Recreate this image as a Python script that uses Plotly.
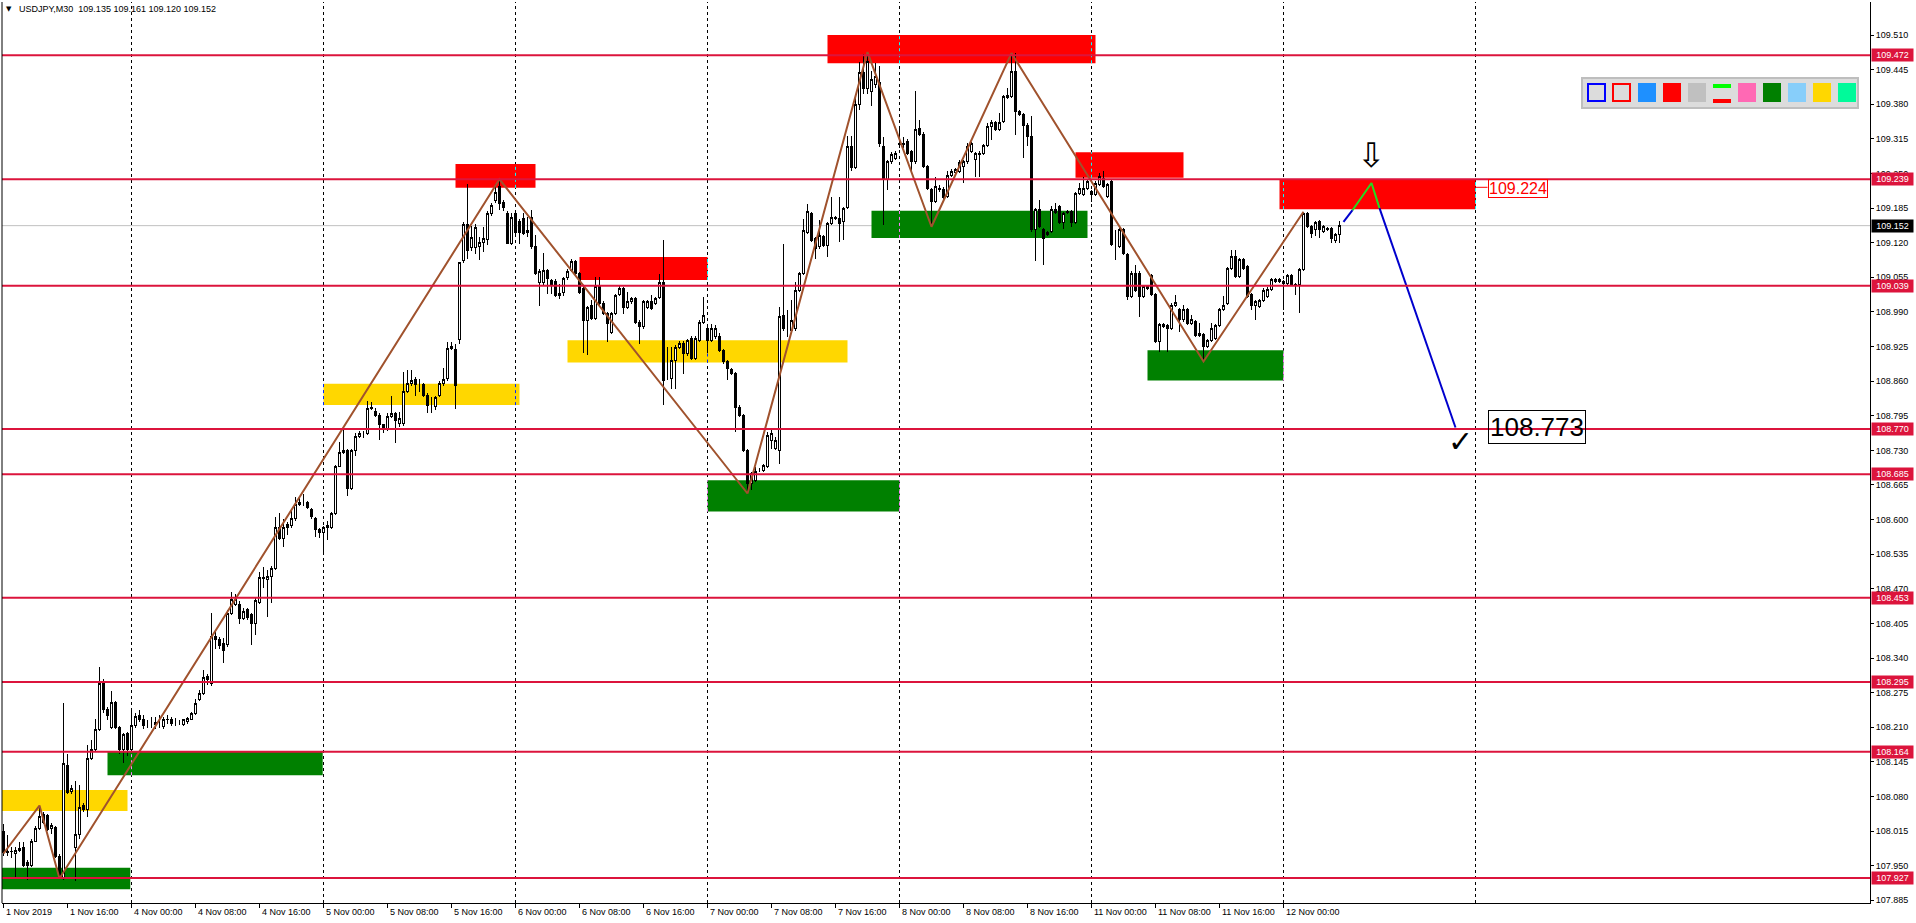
import plotly.graph_objects as go

# ---------------- canvas / frame ----------------
W, H = 1916, 923
ML, MR, MT, MB = 2, 46, 2, 20
PW, PH = W - ML - MR, H - MT - MB

header_text = "USDJPY,M30  109.135 109.161 109.120 109.152"

# ---------------- data (M30 candles, values in points of 0.001 above 107.000) ----------------
BASE = 107.0
POINT = 0.001

open_pts = [1015,975,976,973,978,985,956,951,996,1020,1047,1045,1020,1021,968,928,1139,1090,985,1009,
 1063,1055,1152,1169,1206,1293,1243,1209,1256,1209,1169,1199,1169,1213,1233,1224,1217,1216,1215,1219,
 1211,1224,1224,1219,1219,1215,1221,1224,1236,1262,1273,1305,1293,1380,1374,1367,1365,1424,1441,1441,
 1414,1431,1421,1404,1444,1491,1488,1494,1508,1585,1565,1590,1588,1602,1629,1632,1632,1619,1602,1582,
 1575,1585,1585,1612,1700,1726,1729,1659,1729,1756,1761,1761,1808,1803,1796,1778,1770,1794,1800,1781,
 1780,1840,1855,1864,1853,1853,1833,1817,1812,1833,1855,1865,1922,1920,1938,2087,2155,2111,2111,2112,
 2121,2126,2175,2200,2225,2196,2175,2119,2175,2159,2165,2142,2168,2113,2046,2046,2068,2049,2048,2024,
 2026,2054,2067,2084,2062,2034,1974,2002,1977,2037,2006,1987,1952,1987,2023,2034,1999,2009,2015,1971,
 1962,1999,2009,2006,2018,2046,1865,1865,1899,1923,1930,1912,1940,1902,1937,1971,1959,1937,1943,1944,
 1918,1896,1882,1874,1811,1796,1730,1667,1674,1692,1692,1699,1749,1733,1730,1984,1957,1955,1959,2031,
 2062,2140,2175,2128,2112,2132,2115,2156,2168,2165,2159,2187,2300,2262,2380,2440,2410,2404,2417,2420,
 2301,2238,2272,2279,2304,2304,2310,2291,2272,2335,2324,2263,2220,2197,2222,2220,2207,2247,2252,2254,
 2263,2272,2291,2276,2285,2287,2302,2338,2345,2332,2348,2392,2395,2442,2367,2360,2341,2319,2144,2182,
 2144,2135,2141,2182,2188,2158,2177,2178,2158,2213,2210,2222,2216,2210,2229,2241,2207,2235,2116,2113,
 2144,2097,2019,2063,2063,2019,2038,2059,2022,1934,1963,1964,1959,2003,1995,1975,1995,1969,1972,1945,
 1947,1925,1937,1940,1965,1994,2006,2072,2094,2056,2088,2075,2022,2003,2001,2012,2019,2033,2050,2047,
 2047,2044,2058,2041,2041,2070,2175,2150,2144,2160,2141,2147,2147,2125,2135]
high_pts = [1028,1008,985,985,995,995,961,1001,1025,1063,1050,1048,1030,1025,972,1256,1159,1102,1109,1102,
 1068,1176,1186,1226,1323,1300,1248,1278,1260,1212,1199,1202,1243,1236,1243,1233,1223,1229,1229,1233,
 1229,1233,1229,1228,1224,1226,1229,1239,1263,1280,1317,1310,1424,1391,1380,1377,1431,1464,1461,1448,
 1434,1434,1424,1454,1501,1511,1505,1513,1605,1612,1602,1595,1619,1642,1645,1649,1635,1622,1605,1585,
 1588,1598,1615,1702,1746,1773,1733,1733,1763,1766,1766,1823,1820,1810,1800,1780,1800,1833,1803,1803,
 1877,1880,1880,1867,1864,1857,1837,1830,1833,1860,1884,1934,1934,1930,2084,2159,2231,2151,2155,2130,
 2150,2180,2195,2231,2239,2200,2180,2175,2180,2165,2175,2168,2181,2134,2070,2100,2071,2052,2052,2043,
 2055,2071,2090,2087,2065,2037,2002,2012,2056,2056,2010,1990,1990,2024,2040,2037,2027,2018,2018,1974,
 2012,2012,2021,2018,2062,2125,1924,1924,1927,1935,1935,1940,1945,1945,1975,2018,1962,1968,1965,1950,
 1921,1899,1885,1877,1815,1799,1733,1690,1699,1696,1705,1764,1768,1755,1999,2118,1993,2012,2046,2065,
 2165,2193,2178,2131,2162,2135,2159,2206,2171,2206,2187,2320,2320,2400,2460,2475,2478,2442,2457,2451,
 2319,2276,2290,2292,2335,2319,2315,2294,2404,2351,2327,2266,2222,2244,2229,2225,2254,2258,2260,2275,
 2276,2307,2310,2291,2292,2305,2345,2351,2348,2363,2398,2410,2470,2476,2370,2363,2344,2357,2185,2200,
 2147,2142,2188,2194,2191,2178,2181,2181,2216,2232,2244,2238,2219,2235,2251,2254,2232,2238,2144,2147,
 2147,2100,2066,2078,2066,2041,2041,2062,2025,1969,1969,1967,2006,2022,1998,2003,1998,1984,1975,1969,
 1950,1940,1969,1968,1997,2019,2075,2106,2106,2091,2091,2078,2025,2012,2015,2034,2036,2053,2053,2053,
 2050,2061,2061,2044,2073,2178,2178,2153,2161,2163,2153,2150,2150,2139,2161]
low_pts = [968,968,965,928,975,948,924,948,995,1018,1028,1015,1010,965,926,924,1085,1085,921,1001,
 1050,1042,1149,1166,1203,1236,1223,1206,1206,1159,1142,1156,1166,1209,1219,1206,1209,1209,1206,1209,
 1206,1216,1213,1213,1215,1213,1216,1223,1233,1260,1270,1290,1287,1357,1357,1330,1360,1421,1437,1404,
 1411,1411,1364,1384,1441,1471,1418,1444,1505,1562,1548,1572,1585,1598,1625,1625,1619,1602,1568,1565,
 1538,1562,1582,1609,1699,1723,1645,1656,1719,1753,1753,1758,1806,1793,1749,1763,1766,1790,1743,1773,
 1776,1837,1850,1833,1840,1830,1800,1800,1806,1830,1850,1860,1918,1808,1930,2081,2090,2105,2098,2087,
 2103,2115,2170,2195,2181,2180,2117,2115,2136,2118,2135,2131,2108,2060,2002,2040,2024,2024,2018,2015,
 2020,2050,2065,2058,2024,1912,1910,1974,1974,2003,1984,1934,1949,1984,2020,1987,1996,2005,1968,1930,
 1958,1996,1993,2003,2015,1815,1862,1846,1846,1920,1874,1908,1899,1899,1934,1968,1912,1934,1940,1915,
 1893,1862,1871,1764,1793,1727,1649,1655,1671,1689,1689,1696,1733,1730,1705,1955,1943,1952,1955,2027,
 2059,2137,2122,2090,2109,2112,2093,2153,2162,2121,2125,2184,2255,2258,2370,2400,2400,2376,2410,2300,
 2153,2219,2268,2276,2298,2298,2285,2254,2268,2320,2260,2219,2150,2194,2215,2200,2204,2244,2249,2251,
 2233,2268,2288,2244,2244,2284,2299,2313,2329,2329,2345,2389,2392,2323,2357,2279,2301,2141,2085,2147,
 2078,2132,2138,2174,2155,2145,2174,2150,2155,2210,2207,2219,2197,2207,2226,2222,2204,2113,2088,2110,
 2097,2012,2016,2028,1980,2016,2031,2019,1931,1915,1960,1915,1956,2000,1953,1972,1966,1966,1942,1942,
 1897,1922,1934,1937,1962,1991,2003,2069,2053,2053,2069,2016,1994,1975,1998,2009,2016,2030,2044,2044,
 1994,2041,2038,2022,1988,2066,2147,2128,2132,2128,2138,2142,2119,2119,2120]
close_pts = [975,976,977,978,983,951,951,996,1020,1042,1031,1018,1025,968,928,1142,1088,1095,1008,1060,
 1055,1152,1169,1206,1293,1243,1233,1256,1209,1169,1196,1169,1213,1231,1224,1213,1217,1216,1219,1219,
 1224,1225,1217,1219,1219,1224,1226,1236,1255,1273,1303,1300,1380,1374,1364,1354,1424,1450,1450,1414,
 1427,1417,1404,1448,1491,1490,1494,1508,1585,1565,1585,1585,1602,1629,1632,1632,1622,1605,1582,1575,
 1585,1588,1612,1700,1726,1729,1659,1729,1756,1761,1761,1808,1811,1796,1778,1770,1794,1800,1786,1790,
 1840,1855,1862,1853,1853,1833,1815,1817,1830,1855,1864,1921,1925,1852,2082,2155,2105,2130,2148,2121,
 2128,2175,2190,2215,2194,2187,2119,2168,2140,2140,2138,2140,2112,2062,2065,2068,2052,2040,2021,2021,
 2052,2065,2084,2062,2027,1974,1999,1977,2037,2006,1987,1969,1987,2021,2034,1999,2009,2015,1971,1962,
 2009,2009,1996,2015,2046,1862,1865,1899,1923,1930,1912,1937,1902,1940,1971,1984,1937,1959,1959,1918,
 1896,1883,1874,1811,1796,1730,1667,1686,1690,1692,1702,1758,1761,1749,1981,1959,1957,1974,2031,2062,
 2143,2178,2125,2109,2134,2115,2156,2168,2165,2156,2184,2300,2262,2380,2440,2410,2460,2426,2432,2307,
 2238,2272,2285,2287,2307,2307,2288,2272,2333,2323,2263,2222,2197,2226,2219,2204,2247,2254,2257,2271,
 2272,2301,2307,2287,2288,2302,2338,2345,2332,2345,2395,2396,2442,2367,2360,2341,2319,2144,2182,2150,
 2127,2139,2182,2177,2158,2175,2178,2158,2213,2222,2222,2235,2210,2232,2244,2226,2229,2116,2116,2144,
 2100,2019,2063,2031,2019,2038,2034,2022,1934,1966,1966,1959,2003,2007,1975,1995,1969,1975,1945,1949,
 1925,1937,1959,1965,1994,2003,2072,2094,2056,2088,2072,2019,2003,2009,2012,2031,2033,2050,2047,2050,
 2044,2058,2041,2039,2070,2175,2150,2138,2158,2144,2150,2145,2128,2136,2152]

opens = [BASE + v * POINT for v in open_pts]
highs = [BASE + v * POINT for v in high_pts]
lows = [BASE + v * POINT for v in low_pts]
closes = [BASE + v * POINT for v in close_pts]
bars = list(range(len(closes)))

# time axis labels (bar index of each label)
time_labels = ["1 Nov 2019", "1 Nov 16:00", "4 Nov 00:00", "4 Nov 08:00", "4 Nov 16:00",
               "5 Nov 00:00", "5 Nov 08:00", "5 Nov 16:00", "6 Nov 00:00", "6 Nov 08:00",
               "6 Nov 16:00", "7 Nov 00:00", "7 Nov 08:00", "7 Nov 16:00", "8 Nov 00:00",
               "8 Nov 08:00", "8 Nov 16:00", "11 Nov 00:00", "11 Nov 08:00", "11 Nov 16:00",
               "12 Nov 00:00"]
time_label_bar = [0, 16, 32, 48, 64, 80, 96, 112, 128, 144, 160, 176, 192, 208, 224,
                  240, 256, 272, 288, 304, 320]
day_start_bar = [32, 80, 128, 176, 224, 272, 320, 368]

price_ticks = [109.510, 109.445, 109.380, 109.315, 109.250, 109.185, 109.120, 109.055,
               108.990, 108.925, 108.860, 108.795, 108.730, 108.665, 108.600, 108.535,
               108.470, 108.405, 108.340, 108.275, 108.210, 108.145, 108.080, 108.015,
               107.950, 107.885]

levels = [109.472, 109.239, 109.039, 108.770, 108.685, 108.453, 108.295, 108.164, 107.927]
bid_price = 109.152

zone_x0 = [-0.5, -0.5, 26, 80, 113, 144, 141, 176, 217, 206, 268, 286, 319]
zone_x1 = [31, 31.7, 79.8, 129, 133, 176, 211, 224, 271, 273, 295, 320, 368]
zone_lo = [108.053, 107.906, 108.120, 108.815, 109.223, 109.050, 108.895, 108.615, 109.129,
           109.457, 109.242, 108.861, 109.183]
zone_hi = [108.092, 107.946, 108.165, 108.855, 109.268, 109.093, 108.937, 108.674, 109.180,
           109.510, 109.290, 108.918, 109.239]
zone_color = ["#FFD700", "#008000", "#008000", "#FFD700", "#FF0000", "#FF0000", "#FFD700",
              "#008000", "#008000", "#FF0000", "#FF0000", "#008000", "#FF0000"]
inverse_color = {"#FFD700": "#0028FF", "#008000": "#FF7FFF", "#FF0000": "#00FFFF"}

zigzag_bar = [0, 9, 14, 124, 186, 216, 232, 252, 300, 325]
zigzag_price = [107.973, 108.063, 107.926, 109.239, 108.649, 109.478, 109.150, 109.476,
                108.897, 109.178]

proj_blue1_bar = [335, 337.25]
proj_blue1_price = [109.159, 109.181]
proj_green_bar = [337.25, 342, 344]
proj_green_price = [109.181, 109.232, 109.185]
proj_blue2_bar = [344, 363]
proj_blue2_price = [109.185, 108.773]

target_text = "108.773"
zone_text = "109.224"

# ---------------- helpers for screen-pixel decorations ----------------
def pxx(x):
    return (x - ML) / PW

def pxy(y):
    return (H - MB - y) / PH

FONT = "Liberation Sans, Arial, sans-serif"

fig = go.Figure()

shapes = []
# day separators (dotted)
for b in day_start_bar:
    shapes.append(dict(type="line", xref="x", yref="paper", x0=b, x1=b, y0=0, y1=1,
                       line=dict(color="black", width=1, dash="3px,3px"), layer="below"))
# zones
for x0, x1, lo, hi, c in zip(zone_x0, zone_x1, zone_lo, zone_hi, zone_color):
    shapes.append(dict(type="rect", xref="x", yref="y", x0=x0, x1=x1, y0=lo, y1=hi,
                       fillcolor=c, line=dict(width=0), layer="below"))
# separators drawn over zones in inverted colour (MT4 style)
for b in day_start_bar:
    for x0, x1, lo, hi, c in zip(zone_x0, zone_x1, zone_lo, zone_hi, zone_color):
        if x0 <= b <= x1:
            shapes.append(dict(type="line", xref="x", yref="y", x0=b, x1=b, y0=lo, y1=hi,
                               line=dict(color=inverse_color[c], width=1, dash="3px,3px"),
                               layer="below"))
# bid line
shapes.append(dict(type="line", xref="paper", yref="y", x0=0, x1=1, y0=bid_price, y1=bid_price,
                   line=dict(color="#C0C0C0", width=1), layer="below"))
# horizontal levels
for lv in levels:
    shapes.append(dict(type="line", xref="paper", yref="y", x0=0, x1=1, y0=lv, y1=lv,
                       line=dict(color="#DC143C", width=2), layer="above"))
# connector of zone label
shapes.append(dict(type="line", xref="x", yref="y", x0=zone_x1[-1], x1=371, y0=109.224, y1=109.224,
                   line=dict(color="#FF0000", width=1), layer="above"))
# left border
shapes.append(dict(type="line", xref="paper", yref="paper", x0=0, x1=0, y0=0, y1=1,
                   line=dict(color="black", width=1), layer="above"))

# palette toolbar (screen decoration)
shapes.append(dict(type="rect", xref="paper", yref="paper", x0=pxx(1582), x1=pxx(1858),
                   y0=pxy(108), y1=pxy(78), fillcolor="#DCDCDC",
                   line=dict(color="#BEBEBE", width=2), layer="above"))
pal_x = [1587, 1612, 1638, 1663, 1688, 1713, 1738, 1763, 1788, 1813, 1838]
pal_kind = ["outline", "outline", "fill", "fill", "fill", "bars", "fill", "fill", "fill", "fill", "fill"]
pal_col = ["#0000FF", "#FF0000", "#1E90FF", "#FF0000", "#C0C0C0", "", "#FF69B4", "#008000",
           "#87CEFA", "#FFD700", "#00FA9A"]
for x, k, c in zip(pal_x, pal_kind, pal_col):
    if k == "outline":
        shapes.append(dict(type="rect", xref="paper", yref="paper", x0=pxx(x + 1), x1=pxx(x + 18),
                           y0=pxy(101), y1=pxy(84), line=dict(color=c, width=2),
                           fillcolor="rgba(0,0,0,0)", layer="above"))
    elif k == "fill":
        shapes.append(dict(type="rect", xref="paper", yref="paper", x0=pxx(x), x1=pxx(x + 18),
                           y0=pxy(102), y1=pxy(83), line=dict(width=0), fillcolor=c, layer="above"))
    else:
        shapes.append(dict(type="rect", xref="paper", yref="paper", x0=pxx(x), x1=pxx(x + 18),
                           y0=pxy(88), y1=pxy(84), line=dict(width=0), fillcolor="#00FF00", layer="above"))
        shapes.append(dict(type="rect", xref="paper", yref="paper", x0=pxx(x), x1=pxx(x + 18),
                           y0=pxy(103), y1=pxy(99), line=dict(width=0), fillcolor="#FF0000", layer="above"))

# candles
fig.add_trace(go.Candlestick(
    x=bars, open=opens, high=highs, low=lows, close=closes,
    increasing=dict(line=dict(color="black", width=1), fillcolor="white"),
    decreasing=dict(line=dict(color="black", width=1), fillcolor="black"),
    whiskerwidth=0, showlegend=False, hoverinfo="skip"))

# zigzag
fig.add_trace(go.Scatter(x=zigzag_bar, y=zigzag_price, mode="lines",
                         line=dict(color="#A0522D", width=2), showlegend=False, hoverinfo="skip"))
# projection
fig.add_trace(go.Scatter(x=proj_blue1_bar, y=proj_blue1_price, mode="lines",
                         line=dict(color="#0000CD", width=2), showlegend=False, hoverinfo="skip"))
fig.add_trace(go.Scatter(x=proj_green_bar, y=proj_green_price, mode="lines",
                         line=dict(color="#22DD22", width=2), showlegend=False, hoverinfo="skip"))
fig.add_trace(go.Scatter(x=proj_blue2_bar, y=proj_blue2_price, mode="lines",
                         line=dict(color="#0000CD", width=2), showlegend=False, hoverinfo="skip"))

annotations = []
# time labels
for b, t in zip(time_label_bar, time_labels):
    annotations.append(dict(x=b, xref="x", y=0, yref="paper", text=t, showarrow=False,
                            xanchor="left", yanchor="top", xshift=0, yshift=-2,
                            font=dict(family=FONT, size=9, color="black")))
# level price labels on axis
for lv in levels:
    annotations.append(dict(x=1, xref="paper", y=lv, yref="y", text=f"{lv:.3f}", showarrow=False,
                            xanchor="left", yanchor="middle", xshift=1, bgcolor="#DC143C",
                            borderpad=1, width=39, height=10, align="center",
                            font=dict(family=FONT, size=9, color="white")))
annotations.append(dict(x=1, xref="paper", y=bid_price, yref="y", text=f"{bid_price:.3f}",
                        showarrow=False, xanchor="left", yanchor="middle", xshift=1, bgcolor="black",
                        borderpad=1, width=39, height=10, align="center",
                        font=dict(family=FONT, size=9, color="white")))
# header
annotations.append(dict(x=pxx(4), xref="paper", y=pxy(9), yref="paper", text="▼", showarrow=False,
                        xanchor="left", yanchor="middle", font=dict(family="DejaVu Sans", size=7, color="black")))
annotations.append(dict(x=pxx(17), xref="paper", y=pxy(9), yref="paper", text=header_text,
                        showarrow=False, xanchor="left", yanchor="middle",
                        font=dict(family=FONT, size=9, color="black")))
# target label
annotations.append(dict(x=371, xref="x", y=108.774, yref="y", text=target_text, showarrow=False,
                        xanchor="left", yanchor="middle", bordercolor="black", borderwidth=1,
                        borderpad=1, font=dict(family=FONT, size=26, color="black")))
annotations.append(dict(x=371, xref="x", y=109.221, yref="y", text=zone_text, showarrow=False,
                        xanchor="left", yanchor="middle", bordercolor="#FF0000", borderwidth=1,
                        borderpad=0, font=dict(family=FONT, size=16, color="#FF0000")))
# arrow and check mark
annotations.append(dict(x=342, xref="x", y=109.285, yref="y", text="⇩", showarrow=False,
                        font=dict(family="DejaVu Sans", size=34, color="black")))
annotations.append(dict(x=364.25, xref="x", y=108.746, yref="y", text="✓", showarrow=False,
                        font=dict(family="DejaVu Sans", size=30, color="black", weight="bold")))

fig.update_layout(
    width=W, height=H, autosize=False,
    margin=dict(l=ML, r=MR, t=MT, b=MB, pad=0),
    paper_bgcolor="white", plot_bgcolor="white",
    showlegend=False, boxgap=0.5,
    shapes=shapes, annotations=annotations,
    xaxis=dict(range=[-0.375, 466.625], showgrid=False, zeroline=False, showticklabels=False,
               tickmode="array", tickvals=time_label_bar, ticks="outside", ticklen=4,
               tickcolor="black", showline=True, linecolor="black", linewidth=1,
               rangeslider=dict(visible=False), automargin=False, fixedrange=True),
    yaxis=dict(range=[107.880, 109.572], side="right", showgrid=False, zeroline=False,
               tickmode="array", tickvals=price_ticks, ticktext=[f"{v:.3f}" for v in price_ticks],
               ticks="outside", ticklen=3, tickcolor="black", showline=True, linecolor="black",
               linewidth=1, automargin=False, fixedrange=True,
               tickfont=dict(family=FONT, size=9, color="black")),
)

post = ("document.body.style.margin='0';document.body.style.overflow='hidden';"
        "var s=document.createElement('style');"
        "s.innerHTML='.boxlayer path{shape-rendering:crispEdges}';"
        "document.head.appendChild(s);")
fig.write_html("out.html", config={"displayModeBar": False, "responsive": False},
               post_script=post)
